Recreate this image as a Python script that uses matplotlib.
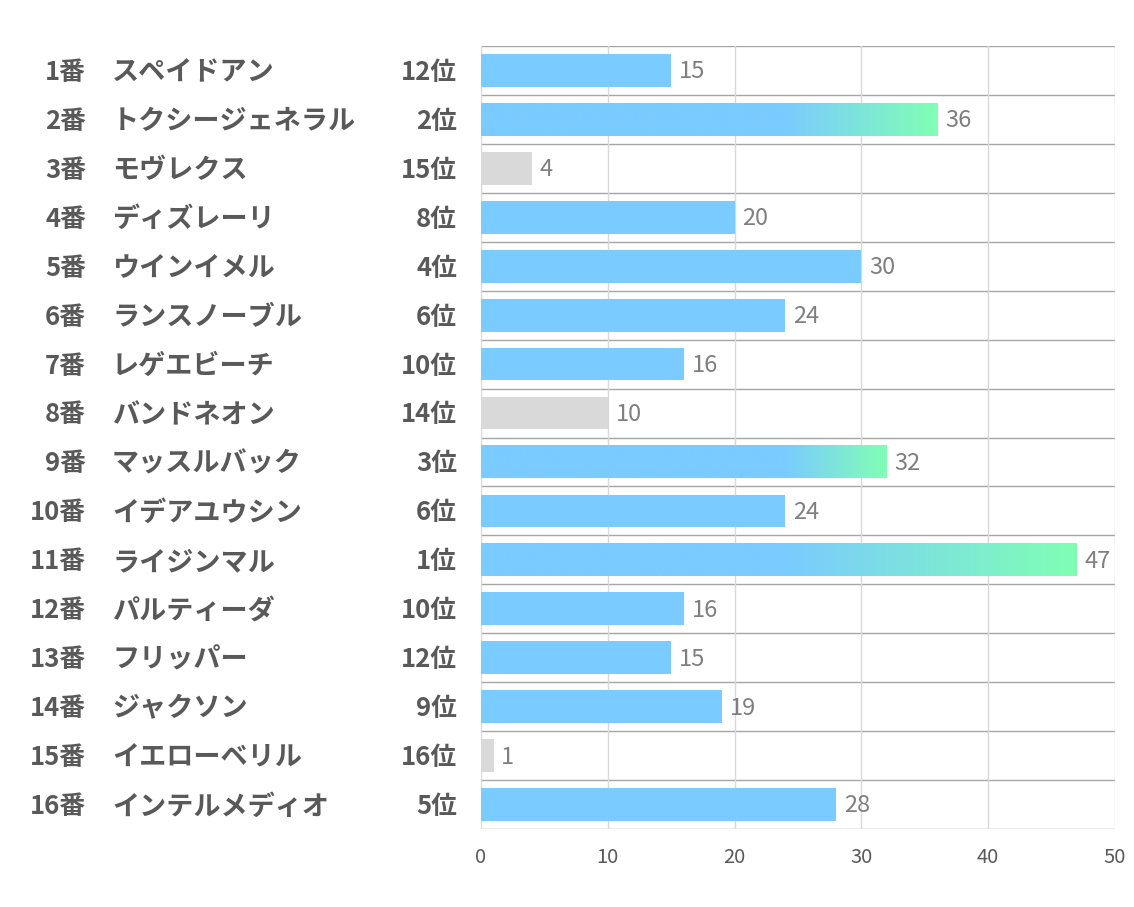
import numpy as np
import matplotlib.pyplot as plt
import matplotlib.transforms as mtransforms
from matplotlib.colors import LinearSegmentedColormap

plt.rcParams['font.family'] = ['Noto Sans CJK JP', 'DejaVu Sans']

# data
numbers = ['1番', '2番', '3番', '4番', '5番', '6番', '7番', '8番',
           '9番', '10番', '11番', '12番', '13番', '14番', '15番', '16番']
names = ['スペイドアン', 'トクシージェネラル', 'モヴレクス', 'ディズレーリ',
         'ウインイメル', 'ランスノーブル', 'レゲエビーチ', 'バンドネオン',
         'マッスルバック', 'イデアユウシン', 'ライジンマル', 'パルティーダ',
         'フリッパー', 'ジャクソン', 'イエローベリル', 'インテルメディオ']
ranks = [12, 2, 15, 8, 4, 6, 10, 14, 3, 6, 1, 10, 12, 9, 16, 5]
values = [15, 36, 4, 20, 30, 24, 16, 10, 32, 24, 47, 16, 15, 19, 1, 28]

blue = '#7ACBFF'
green = '#80FFB4'
gray = '#D9D9D9'
txt = '#595959'

fig = plt.figure(figsize=(11.34, 9.07), dpi=100)
ax = fig.add_axes([481/1134, 78/907, 634/1134, 783/907])

y = np.arange(len(values))
h = 0.67
colors = []
for r in ranks:
    if r <= 3:
        colors.append('none')
    elif r >= 14:
        colors.append(gray)
    else:
        colors.append(blue)
ax.barh(y, values, height=h, color=colors, zorder=2)

# gradient for top 3 (blue, then fading to green from about x=24)
cmap = LinearSegmentedColormap.from_list('bg', [blue, green])
g_start = 24
for yi, v, r in zip(y, values, ranks):
    if r <= 3:
        xs = np.linspace(0, v, 512)
        t = np.clip((xs - g_start) / (v - g_start), 0, 1).reshape(1, -1)
        ax.imshow(t, cmap=cmap, vmin=0, vmax=1, aspect='auto', zorder=3,
                  interpolation='bilinear',
                  extent=(0, v, yi + h/2, yi - h/2))

for yi, v in zip(y, values):
    ax.text(v + 0.6, yi + 0.03, str(v), va='center', ha='left', fontsize=17,
            color='#7F7F7F', zorder=4)

ax.set_xlim(0, 50)
ax.set_ylim(len(values) - 0.5, -0.5)
ax.set_xticks(np.arange(0, 51, 10))
ax.set_yticks([])
ax.grid(axis='x', color='#D9D9D9', linewidth=1, zorder=0)
ax.hlines(np.arange(len(values) + 1) - 0.5, 0, 50, color='#A6A6A6',
          linewidth=1, zorder=1)
for s in ax.spines.values():
    s.set_visible(False)
ax.tick_params(axis='x', length=0, labelsize=14.5, labelcolor=txt, pad=13)

# left labels
tr = mtransforms.blended_transform_factory(fig.transFigure, ax.transData)
for yi, n, nm, r in zip(y, numbers, names, ranks):
    yt = yi + 0.04
    ax.text(86/1134, yt, n, transform=tr, ha='right', va='center',
            fontsize=18.5, fontweight='bold', color=txt)
    ax.text(112/1134, yt, nm, transform=tr, ha='left', va='center',
            fontsize=19.5, fontweight='bold', color=txt)
    ax.text(457/1134, yt, f'{r}位', transform=tr, ha='right', va='center',
            fontsize=18.5, fontweight='bold', color=txt)

fig.savefig('out.png', dpi=100)
